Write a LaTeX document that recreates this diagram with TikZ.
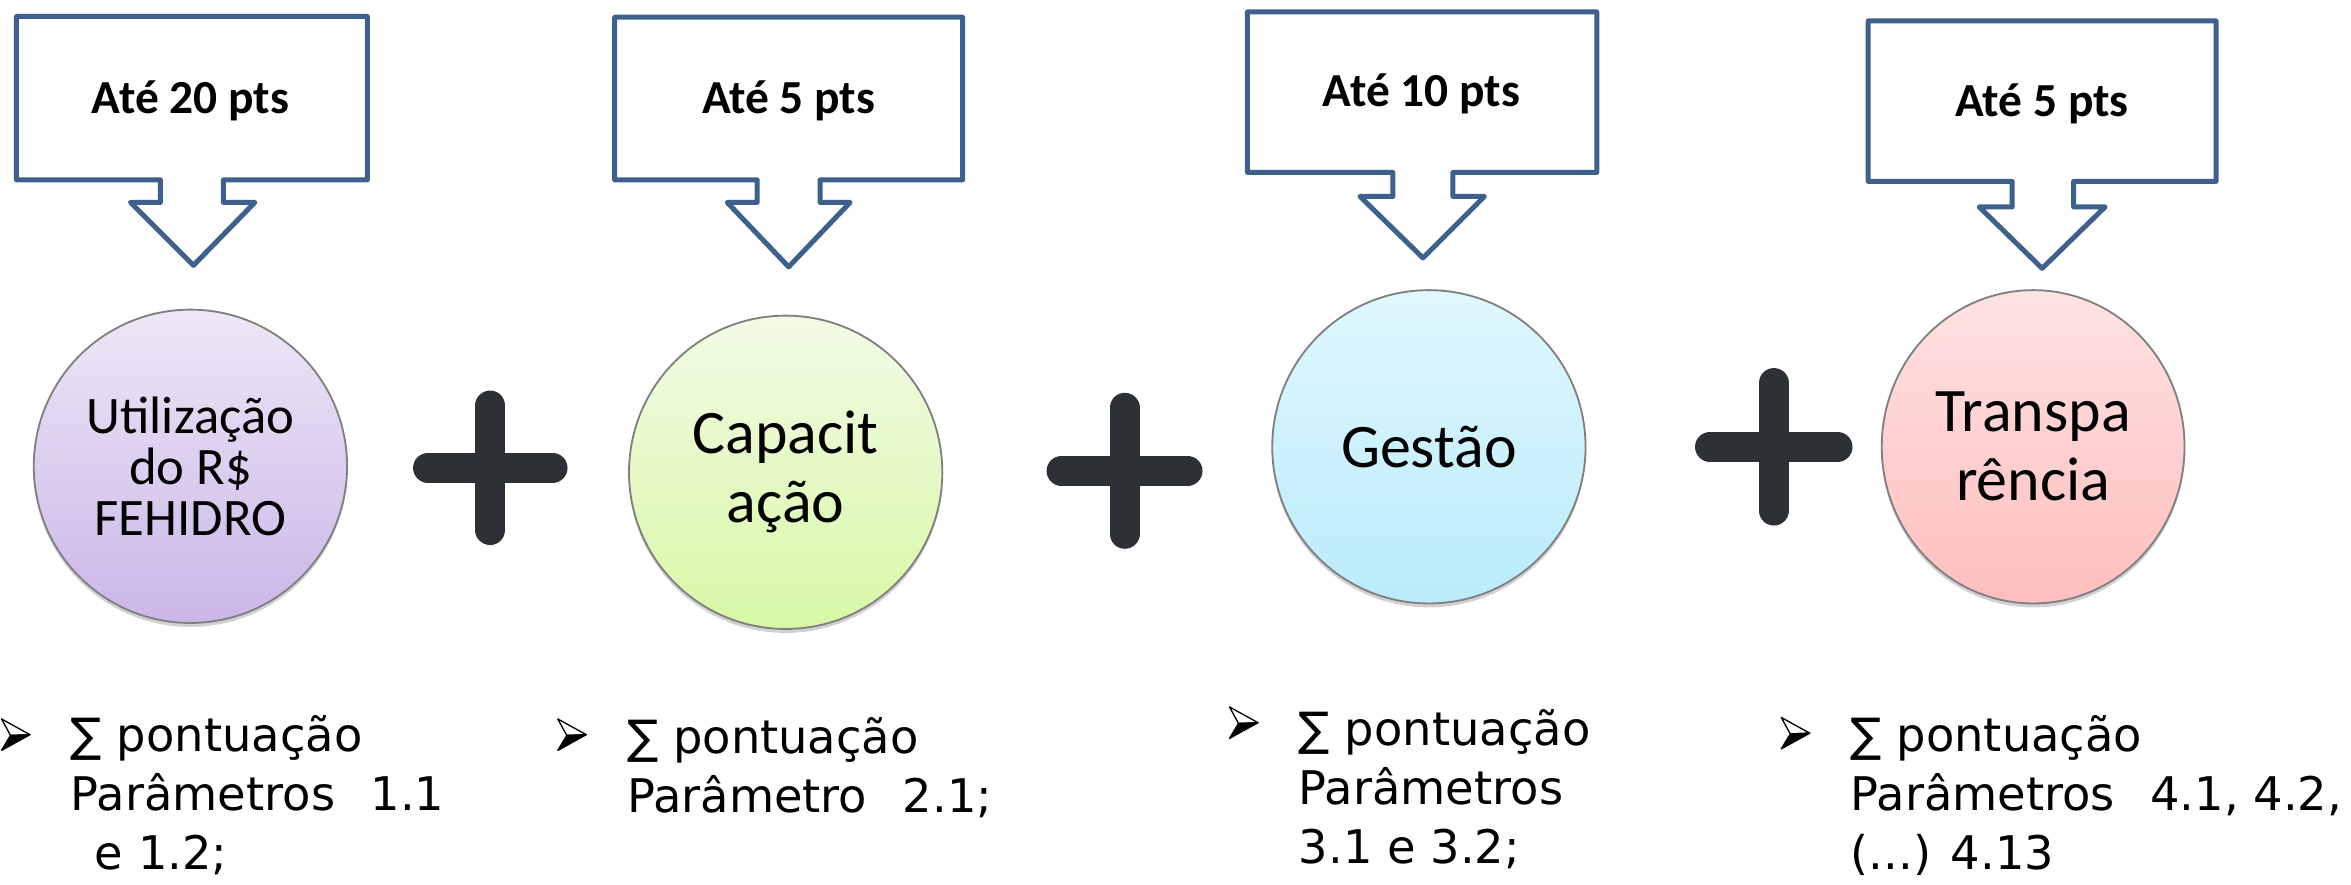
\documentclass[tikz,border=0pt]{standalone}
\usepackage{fontspec}
\setmainfont{Carlito}
\newfontfamily\verd{DejaVu Sans}
\usetikzlibrary{shapes.geometric,shadows}
\definecolor{calloutblue}{RGB}{62,96,140}
\definecolor{plusgray}{RGB}{45,49,53}
\definecolor{ringgray}{RGB}{128,128,128}
\definecolor{purpleTop}{RGB}{237,231,246}
\definecolor{purpleBot}{RGB}{203,182,232}
\definecolor{greenTop}{RGB}{242,251,230}
\definecolor{greenBot}{RGB}{216,248,165}
\definecolor{blueTop}{RGB}{224,247,253}
\definecolor{blueBot}{RGB}{186,236,252}
\definecolor{pinkTop}{RGB}{255,226,226}
\definecolor{pinkBot}{RGB}{255,190,190}
\begin{document}
\begin{tikzpicture}[x=0.02cm,y=-0.02cm,
  callout/.style={draw=calloutblue,line width=1.9pt,line join=round,fill=white},
  callouttext/.style={font=\bfseries\fontsize{18pt}{20pt}\selectfont,anchor=base,inner sep=0pt},
  ball/.style={ellipse,draw=ringgray,line width=0.7pt,inner sep=0pt,align=center,
    minimum width=4.18cm,minimum height=4.18cm,
    drop shadow={shadow xshift=0pt,shadow yshift=-1.5pt,opacity=0.3,fill=black!60}},
  bigtext/.style={font=\fontsize{23.5pt}{26.2pt}\selectfont},
  plusbar/.style={draw=plusgray,line width=11.4pt,line cap=round},
  listtext/.style={font=\verd\fontsize{17.6pt}{22.4pt}\selectfont,align=left,anchor=base west,inner sep=0pt},
  arrowbullet/.pic={
    \filldraw[fill=white,draw=black,line width=0.5pt,line join=round] (0,-10.5) -- (19,0) -- (6,0.5) -- cycle;
    \filldraw[fill=black,draw=black,line width=0.5pt,line join=round] (6,0.5) -- (19,0) -- (0,10.5) -- cycle;
  }]
\useasboundingbox (0,0) rectangle (1568,590);

% callouts
\path[callout] (11,11) -- (245,11) -- (245,120) -- (149,120) -- (149,135) -- (170,135) -- (129,177) -- (87,135) -- (107,135) -- (107,120) -- (11,120) -- cycle;
\path[callout] (410,11.5) -- (642,11.5) -- (642,120) -- (547,120) -- (547,135) -- (567,135) -- (526,178) -- (485,135) -- (505,135) -- (505,120) -- (410,120) -- cycle;
\path[callout] (832,8) -- (1065,8) -- (1065,115) -- (969,115) -- (969,131) -- (990,131) -- (949,172) -- (907,131) -- (929,131) -- (929,115) -- (832,115) -- cycle;
\path[callout] (1246,14) -- (1478,14) -- (1478,121) -- (1383,121) -- (1383,138) -- (1404,138) -- (1362,179) -- (1320,138) -- (1342,138) -- (1342,121) -- (1246,121) -- cycle;

\node[callouttext] (t1) at (127,75.5) {Até 20 pts};
\node[callouttext] (t2) at (526,75.5) {Até 5 pts};
\node[callouttext] (t3) at (948,71) {Até 10 pts};
\node[callouttext] (t4) at (1362,78) {Até 5 pts};

% circles
\node[ball,top color=purpleTop,bottom color=purpleBot,font=\fontsize{20pt}{19.5pt}\selectfont] (c1) at (127,311) {Utilização\\do R\$\\FEHIDRO};
\node[ball,bigtext,top color=greenTop,bottom color=greenBot] (c2) at (524,315) {Capacit\\ação};
\node[ball,bigtext,top color=blueTop,bottom color=blueBot] (c3) at (953,298) {Gestão};
\node[ball,bigtext,top color=pinkTop,bottom color=pinkBot,minimum width=4.04cm] (c4) at (1356,298) {Transpa\\rência};

% plus signs
\path[plusbar] (285.5,312) -- (368.5,312) (327,270.5) -- (327,353.5);
\path[plusbar] (708,314) -- (792,314) (750,272) -- (750,356);
\path[plusbar] (1140.5,298) -- (1225.5,298) (1183,255.5) -- (1183,340.5);

% bullets
\pic at (1,490) {arrowbullet};
\pic at (372,490) {arrowbullet};
\pic at (820,482) {arrowbullet};
\pic at (1188,489) {arrowbullet};

\node[listtext] (l1) at (47,580) {∑ pontuação\\Parâmetros\hspace{0.45em} 1.1\\\hspace*{0.32cm}e 1.2;};
\node[listtext] (l2) at (418,542) {∑ pontuação\\Parâmetro\hspace{0.45em} 2.1;};
\node[listtext] (l3) at (866,576) {∑ pontuação\\Parâmetros\\3.1 e 3.2;};
\node[listtext] (l4) at (1234,580) {∑ pontuação\\Parâmetros\hspace{0.45em} 4.1, 4.2,\\(...) 4.13};
\end{tikzpicture}
\end{document}
